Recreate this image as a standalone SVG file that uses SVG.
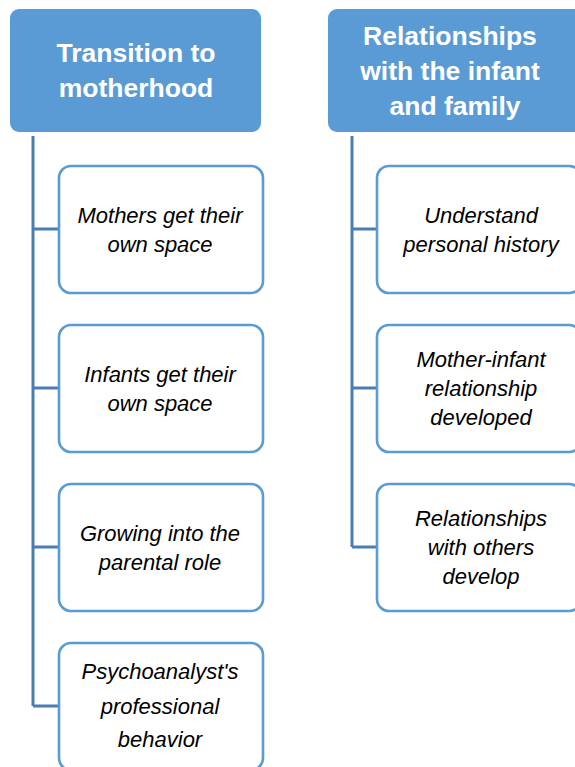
<svg xmlns="http://www.w3.org/2000/svg" width="575" height="767" viewBox="0 0 575 767">
<style>
.hdr{fill:#5b9bd5}
.ht{font-family:"Liberation Sans",Arial,sans-serif;font-weight:bold;font-size:26.5px;fill:#fff;text-anchor:middle}
.box{fill:#fff;stroke:#5b9bd5;stroke-width:2.6}
.bt{font-family:"Liberation Sans",Arial,sans-serif;font-style:italic;font-size:22px;fill:#000;text-anchor:middle}
.con{fill:none;stroke:#4a7db4;stroke-width:3}
</style>
<rect width="575" height="767" fill="#fff"/>
<g id="connectors">
<path class="con" d="M33 136V706M33 229H59M33 388H59M33 547H59M33 706H59"/>
<path class="con" d="M352 136V547M352 229H377M352 388H377M352 547H377"/>
</g>
<g id="h1"><rect class="hdr" x="10" y="9" width="251" height="123" rx="9"/>
<text class="ht" x="136" y="62">Transition to</text><text class="ht" x="136" y="97">motherhood</text></g>
<g id="h2"><rect class="hdr" x="328" y="9" width="260" height="123" rx="9"/>
<text class="ht" x="450" y="45">Relationships</text><text class="ht" x="450" y="80">with the infant</text><text class="ht" x="455" y="115">and family</text></g>
<g id="n1"><rect class="box" x="59" y="166" width="204" height="127" rx="12"/>
<text class="bt" x="160" y="223">Mothers get their</text><text class="bt" x="160" y="252">own space</text></g>
<g id="n2"><rect class="box" x="59" y="325" width="204" height="127" rx="12"/>
<text class="bt" x="160" y="382">Infants get their</text><text class="bt" x="160" y="411">own space</text></g>
<g id="n3"><rect class="box" x="59" y="484" width="204" height="127" rx="12"/>
<text class="bt" x="160" y="541">Growing into the</text><text class="bt" x="160" y="570">parental role</text></g>
<g id="n4"><rect class="box" x="59" y="643" width="204" height="127" rx="12"/>
<text class="bt" x="160" y="679">Psychoanalyst's</text><text class="bt" x="160" y="714">professional</text><text class="bt" x="160" y="747">behavior</text></g>
<g id="n5"><rect class="box" x="377" y="166" width="204" height="127" rx="12"/>
<text class="bt" x="481" y="223">Understand</text><text class="bt" x="481" y="252">personal history</text></g>
<g id="n6"><rect class="box" x="377" y="325" width="204" height="127" rx="12"/>
<text class="bt" x="481" y="367">Mother-infant</text><text class="bt" x="481" y="396">relationship</text><text class="bt" x="481" y="425">developed</text></g>
<g id="n7"><rect class="box" x="377" y="484" width="204" height="127" rx="12"/>
<text class="bt" x="481" y="526">Relationships</text><text class="bt" x="481" y="555">with others</text><text class="bt" x="481" y="584">develop</text></g>
</svg>
